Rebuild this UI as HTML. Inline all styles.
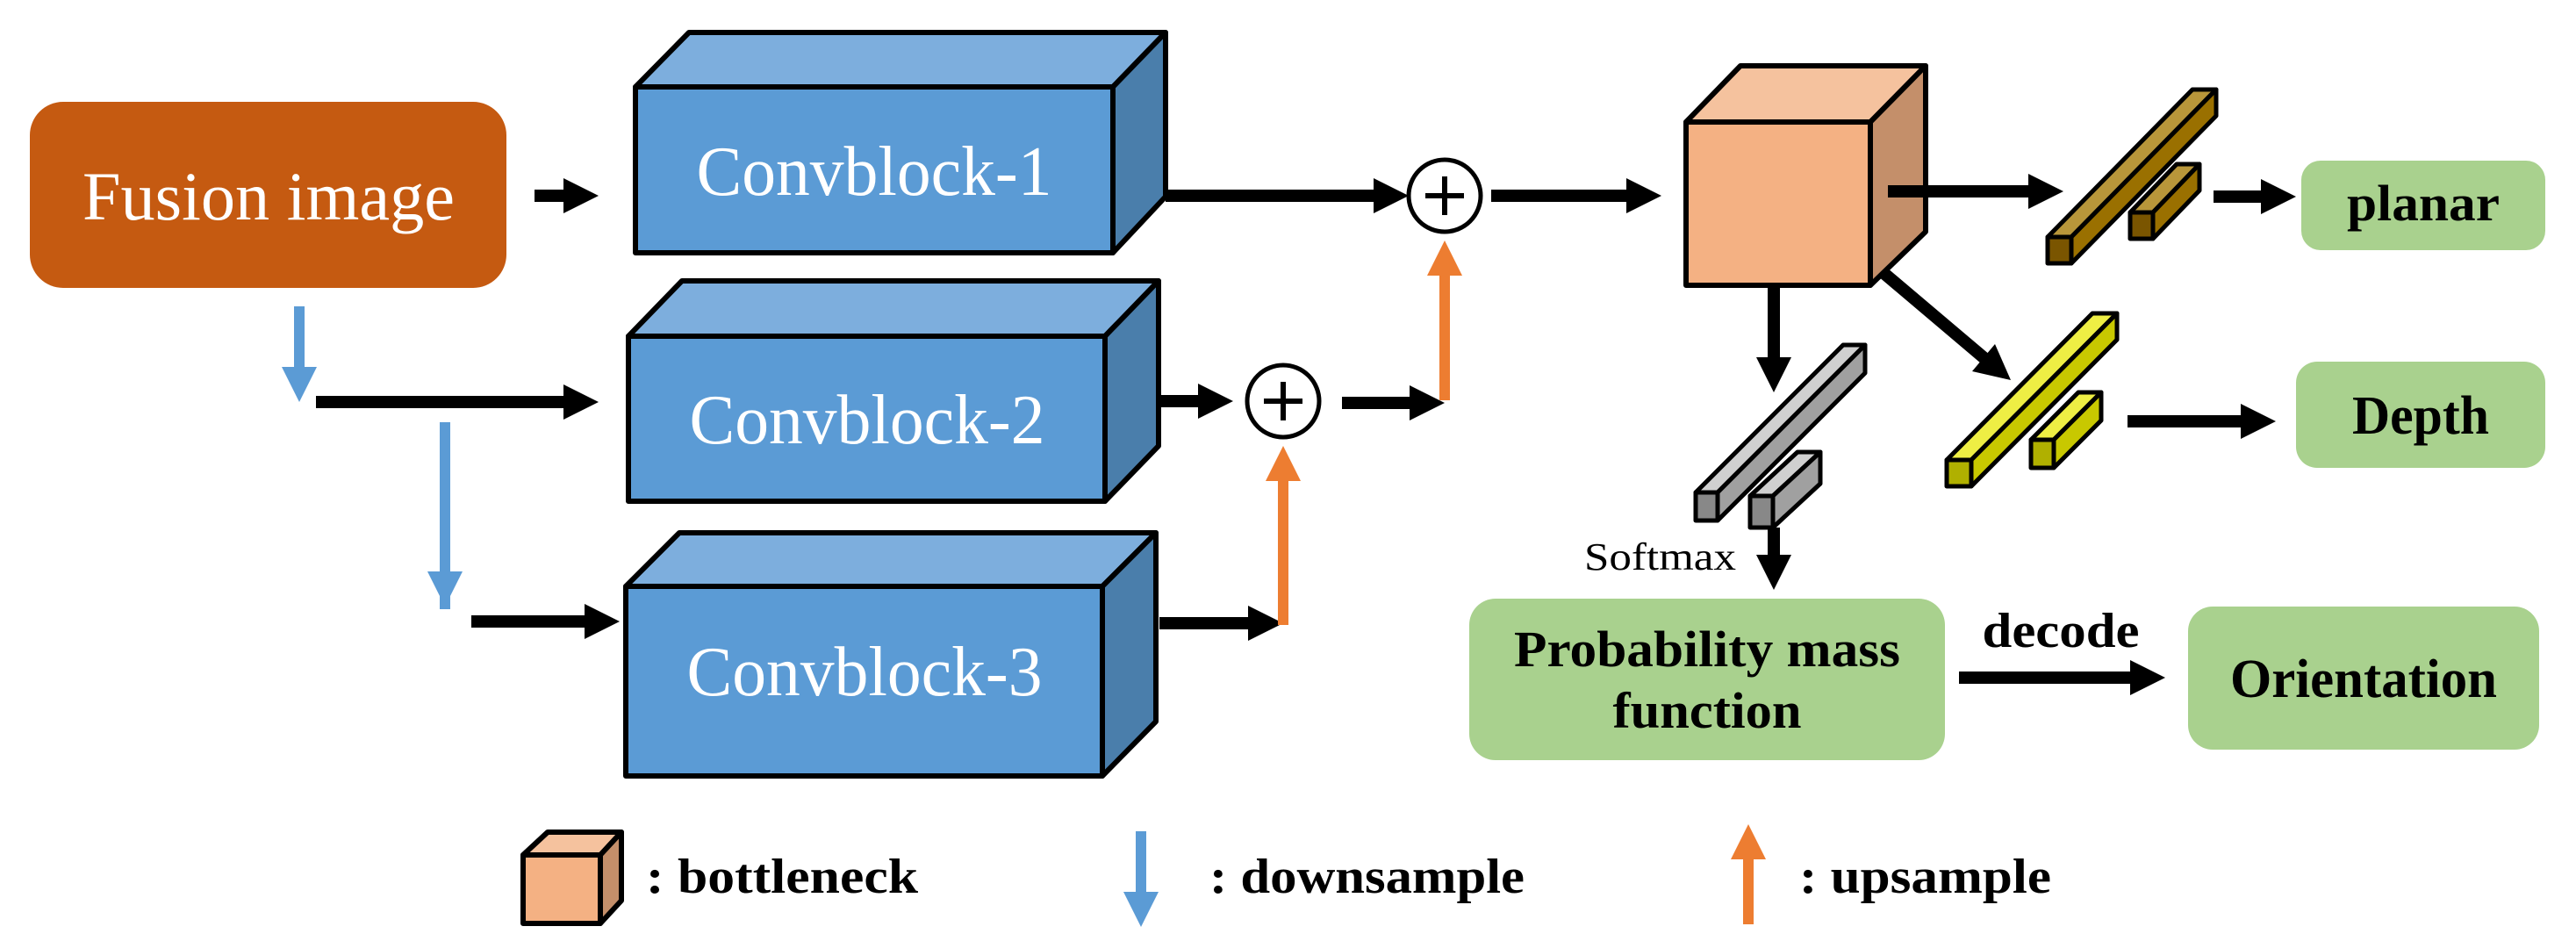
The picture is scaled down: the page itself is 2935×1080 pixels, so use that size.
<!DOCTYPE html>
<html><head><meta charset="utf-8"><style>html,body{margin:0;padding:0;background:#fff}svg{display:block}</style></head><body>
<svg width="2935" height="1080" viewBox="0 0 2935 1080" xmlns="http://www.w3.org/2000/svg" font-family="'Liberation Serif', serif">
<rect width="2935" height="1080" fill="#fff"/>
<rect x="34" y="116" width="543" height="212" rx="38" fill="#c55a11"/>
<text x="306" y="250" fill="#fff" font-size="78" text-anchor="middle" textLength="424" lengthAdjust="spacingAndGlyphs">Fusion image</text>

<g stroke="#000" stroke-width="6" stroke-linejoin="round">
<polygon points="724,99 785,37 1328,37 1268,99" fill="#7daedd"/>
<polygon points="1268,99 1328,37 1328,224 1268,288" fill="#4a7eab"/>
<rect x="724" y="99" width="544" height="189" fill="#5b9bd5"/>
<polygon points="716,383 777,320 1320,320 1259,383" fill="#7daedd"/>
<polygon points="1259,383 1320,320 1320,508 1259,571" fill="#4a7eab"/>
<rect x="716" y="383" width="543" height="188" fill="#5b9bd5"/>
<polygon points="713,668 774,607 1317,607 1256,668" fill="#7daedd"/>
<polygon points="1256,668 1317,607 1317,822 1256,884" fill="#4a7eab"/>
<rect x="713" y="668" width="543" height="216" fill="#5b9bd5"/>
<polygon points="1921,139 1983,75 2194,75 2131,139" fill="#f5c29e"/>
<polygon points="2131,139 2194,75 2194,264 2131,325" fill="#c48f6a"/>
<rect x="1921" y="139" width="210" height="186" fill="#f4b183"/>
</g>
<text x="996" y="222" fill="#fff" font-size="80" text-anchor="middle" textLength="405" lengthAdjust="spacingAndGlyphs">Convblock-1</text>
<text x="988" y="505" fill="#fff" font-size="80" text-anchor="middle" textLength="405" lengthAdjust="spacingAndGlyphs">Convblock-2</text>
<text x="985" y="792" fill="#fff" font-size="80" text-anchor="middle" textLength="405" lengthAdjust="spacingAndGlyphs">Convblock-3</text>

<g stroke="#000" stroke-width="5" stroke-linejoin="round">
<polygon points="2333,270 2360,270 2525,102 2498,102" fill="#b8963a"/>
<polygon points="2360,270 2360,300 2525,132 2525,102" fill="#9a7000"/>
<rect x="2333" y="270" width="27" height="30" fill="#7a5500"/>
<polygon points="2427,242 2453,242 2506,187 2480,187" fill="#b8963a"/>
<polygon points="2453,242 2453,272 2506,217 2506,187" fill="#9a7000"/>
<rect x="2427" y="242" width="26" height="30" fill="#7a5500"/>
<polygon points="2218,524 2246,524 2412,357 2384,357" fill="#eeee44"/>
<polygon points="2246,524 2246,554 2412,387 2412,357" fill="#c8c800"/>
<rect x="2218" y="524" width="28" height="30" fill="#b0b000"/>
<polygon points="2314,501 2340,501 2394,447 2368,447" fill="#eeee44"/>
<polygon points="2340,501 2340,533 2394,479 2394,447" fill="#c8c800"/>
<rect x="2314" y="501" width="26" height="32" fill="#b0b000"/>
<polygon points="1932,561 1957,561 2125,393 2100,393" fill="#d0d0d0"/>
<polygon points="1957,561 1957,593 2125,425 2125,393" fill="#a0a0a0"/>
<rect x="1932" y="561" width="25" height="32" fill="#888"/>
<polygon points="1994,565 2020,565 2074,515 2048,515" fill="#d0d0d0"/>
<polygon points="2020,565 2020,601 2074,551 2074,515" fill="#a0a0a0"/>
<rect x="1994" y="565" width="26" height="36" fill="#888"/>
</g>

<g stroke="#000" stroke-width="5" fill="#fff">
<circle cx="1646" cy="223" r="41"/>
<circle cx="1462" cy="457" r="41"/>
</g>
<g stroke="#000" stroke-width="6">
<line x1="1624" y1="223" x2="1668" y2="223"/><line x1="1646" y1="201" x2="1646" y2="245"/>
<line x1="1440" y1="457" x2="1484" y2="457"/><line x1="1462" y1="435" x2="1462" y2="479"/>
</g>

<g fill="#000">
<rect x="609" y="216" width="35" height="14"/><polygon points="642,203 682,223 642,243"/>
<rect x="360" y="451" width="285" height="14"/><polygon points="642,438 682,458 642,478"/>
<rect x="537" y="701" width="132" height="14"/><polygon points="666,688 706,708 666,728"/>
<rect x="1328" y="216" width="240" height="14"/><polygon points="1565,203 1605,223 1565,243"/>
<rect x="1322" y="450" width="46" height="14"/><polygon points="1365,437 1405,457 1365,477"/>
<rect x="1321" y="703" width="104" height="14"/><polygon points="1422,690 1462,710 1422,730"/>
<rect x="1529" y="452" width="80" height="14"/><polygon points="1606,439 1646,459 1606,479"/>
<rect x="1699" y="216" width="157" height="14"/><polygon points="1853,203 1893,223 1853,243"/>
<rect x="2151" y="211" width="163" height="14"/><polygon points="2311,198 2351,218 2311,238"/>
<rect x="2522" y="217" width="57" height="14"/><polygon points="2576,204 2616,224 2576,244"/>
<rect x="2424" y="473" width="132" height="14"/><polygon points="2553,460 2593,480 2553,500"/>
<rect x="2232" y="765" width="198" height="14"/><polygon points="2427,752 2467,772 2427,792"/>
<rect x="2014" y="325" width="14" height="85"/><polygon points="2001,407 2041,407 2021,447"/>
<rect x="2014" y="601" width="14" height="34"/><polygon points="2001,632 2041,632 2021,672"/>
<polygon points="2247,423 2273,392 2291,433"/>
</g>
<line x1="2145" y1="310" x2="2262" y2="409" stroke="#000" stroke-width="14"/>

<g fill="#5b9bd5">
<rect x="335" y="349" width="12" height="72"/><polygon points="321,418 361,418 341,458"/>
<rect x="501" y="481" width="12" height="213"/><polygon points="487,651 527,651 507,691"/>
<rect x="1294" y="947" width="12" height="72"/><polygon points="1280,1016 1320,1016 1300,1056"/>
</g>
<g fill="#ed7d31">
<rect x="1640" y="310" width="12" height="146"/><polygon points="1626,314 1666,314 1646,274"/>
<rect x="1456" y="545" width="12" height="167"/><polygon points="1442,548 1482,548 1462,508"/>
<rect x="1986" y="975" width="12" height="78"/><polygon points="1972,979 2012,979 1992,939"/>
</g>

<g fill="#a9d18e">
<rect x="2622" y="183" width="278" height="102" rx="22"/>
<rect x="2616" y="412" width="284" height="121" rx="24"/>
<rect x="1674" y="682" width="542" height="184" rx="30"/>
<rect x="2493" y="691" width="400" height="163" rx="28"/>
</g>
<g font-weight="bold" fill="#000" text-anchor="middle">
<text x="2761" y="251" font-size="58" textLength="174" lengthAdjust="spacingAndGlyphs">planar</text>
<text x="2758" y="494" font-size="62" textLength="156" lengthAdjust="spacingAndGlyphs">Depth</text>
<text x="1945" y="759" font-size="58" textLength="440" lengthAdjust="spacingAndGlyphs">Probability mass</text>
<text x="1945" y="829" font-size="58" textLength="215" lengthAdjust="spacingAndGlyphs">function</text>
<text x="2693" y="794" font-size="62" textLength="304" lengthAdjust="spacingAndGlyphs">Orientation</text>
<text x="2348" y="737" font-size="56" textLength="179" lengthAdjust="spacingAndGlyphs">decode</text>
</g>
<text x="1805" y="649" font-size="44" textLength="173" lengthAdjust="spacingAndGlyphs">Softmax</text>

<g stroke="#000" stroke-width="6" stroke-linejoin="round">
<polygon points="596,974 624,948 708,948 684,974" fill="#f5c29e"/>
<polygon points="684,974 708,948 708,1026 684,1052" fill="#c48f6a"/>
<rect x="596" y="974" width="88" height="78" fill="#f4b183"/>
</g>
<g font-weight="bold" font-size="56" fill="#000">
<text x="736" y="1017" textLength="310" lengthAdjust="spacingAndGlyphs">: bottleneck</text>
<text x="1378" y="1017" textLength="359" lengthAdjust="spacingAndGlyphs">: downsample</text>
<text x="2050" y="1017" textLength="287" lengthAdjust="spacingAndGlyphs">: upsample</text>
</g>
</svg>
</body></html>
